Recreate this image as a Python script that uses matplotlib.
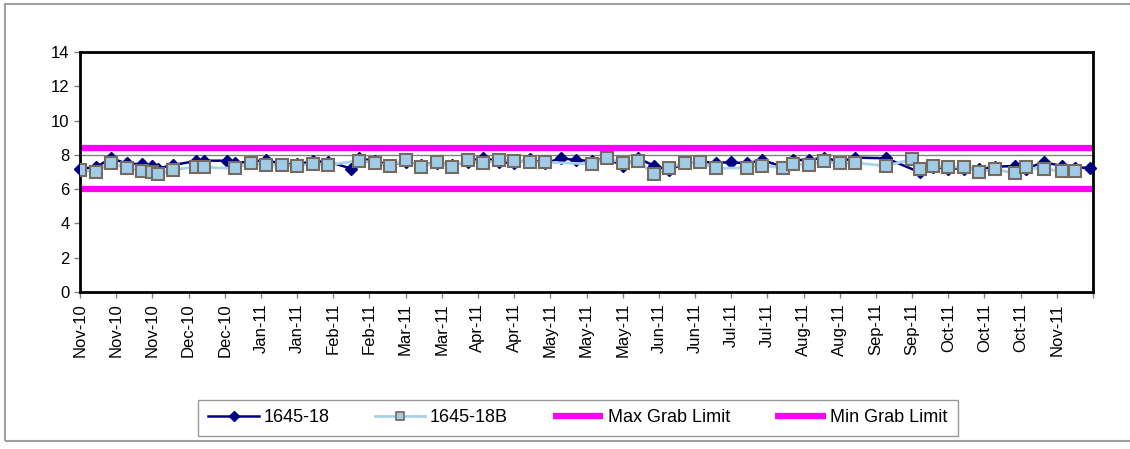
import matplotlib
matplotlib.use("Agg")
import matplotlib.pyplot as plt
from matplotlib.patches import Rectangle
import pandas as pd

plt.rcParams["font.family"] = ["Liberation Sans", "DejaVu Sans"]

# 1645-18 (navy diamonds)
dates_a = ["2010-11-01", "2010-11-07", "2010-11-13", "2010-11-19", "2010-11-25", "2010-11-29",
           "2010-12-01", "2010-12-07", "2010-12-16", "2010-12-19", "2010-12-28", "2010-12-31",
           "2011-01-06", "2011-01-12", "2011-01-18", "2011-01-24", "2011-01-30", "2011-02-05",
           "2011-02-14", "2011-02-17", "2011-02-23", "2011-03-01", "2011-03-07", "2011-03-13",
           "2011-03-19", "2011-03-25", "2011-03-31", "2011-04-06", "2011-04-12", "2011-04-18",
           "2011-04-24", "2011-04-30", "2011-05-06", "2011-05-12", "2011-05-18", "2011-05-24",
           "2011-05-30", "2011-06-05", "2011-06-11", "2011-06-17", "2011-06-23", "2011-06-29",
           "2011-07-05", "2011-07-11", "2011-07-17", "2011-07-23", "2011-07-31", "2011-08-04",
           "2011-08-10", "2011-08-16", "2011-08-22", "2011-08-28", "2011-09-09", "2011-09-22",
           "2011-09-27", "2011-10-03", "2011-10-09", "2011-10-15", "2011-10-21", "2011-10-29",
           "2011-11-02", "2011-11-09", "2011-11-16", "2011-11-21", "2011-11-27"]
vals_a = [7.2, 7.27, 7.8, 7.5, 7.45, 7.35,
          7.2, 7.41, 7.64, 7.66, 7.66, 7.54,
          7.6, 7.7, 7.47, 7.45, 7.62, 7.6,
          7.2, 7.8, 7.64, 7.4, 7.6, 7.4,
          7.55, 7.4, 7.6, 7.84, 7.6, 7.5,
          7.76, 7.5, 7.8, 7.7, 7.64, 7.8,
          7.35, 7.8, 7.37, 7.12, 7.5, 7.6,
          7.54, 7.57, 7.5, 7.7, 7.3, 7.7,
          7.7, 7.84, 7.6, 7.84, 7.8, 6.98,
          7.3, 7.2, 7.2, 7.16, 7.31, 7.35,
          7.2, 7.57, 7.35, 7.25, 7.25]

# 1645-18B (light blue squares)
dates_b = ["2010-11-01", "2010-11-07", "2010-11-13", "2010-11-19", "2010-11-25", "2010-11-29",
           "2010-12-01", "2010-12-07", "2010-12-16", "2010-12-19", "2010-12-31", "2011-01-06",
           "2011-01-12", "2011-01-18", "2011-01-24", "2011-01-30", "2011-02-05", "2011-02-17",
           "2011-02-23", "2011-03-01", "2011-03-07", "2011-03-13", "2011-03-19", "2011-03-25",
           "2011-03-31", "2011-04-06", "2011-04-12", "2011-04-18", "2011-04-24", "2011-04-30",
           "2011-05-18", "2011-05-24", "2011-05-30", "2011-06-05", "2011-06-11", "2011-06-17",
           "2011-06-23", "2011-06-29", "2011-07-05", "2011-07-17", "2011-07-23", "2011-07-31",
           "2011-08-04", "2011-08-10", "2011-08-16", "2011-08-22", "2011-08-28", "2011-09-09",
           "2011-09-19", "2011-09-22", "2011-09-27", "2011-10-03", "2011-10-09", "2011-10-15",
           "2011-10-21", "2011-10-29", "2011-11-02", "2011-11-09", "2011-11-16", "2011-11-21"]
vals_b = [7.12, 7.02, 7.54, 7.21, 7.06, 6.98,
          6.86, 7.12, 7.31, 7.27, 7.21, 7.54,
          7.41, 7.41, 7.35, 7.47, 7.41, 7.66,
          7.54, 7.35, 7.7, 7.27, 7.6, 7.31,
          7.7, 7.5, 7.7, 7.66, 7.57, 7.57,
          7.47, 7.84, 7.5, 7.64, 6.86, 7.25,
          7.54, 7.57, 7.21, 7.25, 7.37, 7.25,
          7.45, 7.41, 7.64, 7.5, 7.54, 7.35,
          7.76, 7.18, 7.37, 7.27, 7.31, 7.02,
          7.16, 6.92, 7.27, 7.16, 7.08, 7.08]

max_limit = 8.4
min_limit = 6.0
ref_line = 8

x_start = "2010-11-01"
x_end = "2011-11-28"
tick_step_days = 14

da = pd.to_datetime(dates_a)
db = pd.to_datetime(dates_b)
xs = pd.Timestamp(x_start)
xe = pd.Timestamp(x_end)

fig = plt.figure(figsize=(11.3, 4.49), dpi=100)
ax = fig.add_axes([80 / 1130, 1 - 292 / 449, (1093 - 80) / 1130, 240 / 449])

ax.axhline(ref_line, color="#808080", lw=1, zorder=1)
l3, = ax.plot([xs, xe], [max_limit, max_limit], color="#ff00ff", lw=4.5,
              solid_capstyle="butt", zorder=2, label="Max Grab Limit")
l4, = ax.plot([xs, xe], [min_limit, min_limit], color="#ff00ff", lw=4.5,
              solid_capstyle="butt", zorder=2, label="Min Grab Limit")
l1, = ax.plot(da, vals_a, color="#000080", lw=1.8, marker="D", ms=6.5,
              mfc="#000080", mec="#000080", zorder=3, clip_on=False, label="1645-18")
l2, = ax.plot(db, vals_b, color="#a6d2ee", lw=2, marker="s", ms=8.5,
              mfc="#a0cce8", mec="#756a60", mew=1.5, zorder=4, label="1645-18B")

ax.set_xlim(xs, xe)
ax.set_ylim(0, 14)
ax.set_yticks(range(0, 15, 2))

ticks = pd.date_range(xs, xe, freq=f"{tick_step_days}D")
ax.set_xticks(ticks)
labels = [t.strftime("%b-%y") for t in ticks]
labels[-1] = ""
ax.set_xticklabels(labels, rotation=90)

for s in ax.spines.values():
    s.set_linewidth(2)
    s.set_color("black")
ax.tick_params(axis="both", labelsize=12, length=4, width=1, color="#808080")
ax.tick_params(axis="x", pad=4)

leg = fig.legend([l1, l2, l3, l4], ["1645-18", "1645-18B", "Max Grab Limit", "Min Grab Limit"],
                 loc="center", bbox_to_anchor=(578 / 1130, 1 - 418 / 449), ncol=4,
                 fontsize=13, frameon=True, fancybox=False, handlelength=2.8,
                 handletextpad=0.25, columnspacing=2.5, borderpad=0.55)
leg.get_frame().set_edgecolor("#808080")
leg.get_frame().set_linewidth(1)
hs = leg.legend_handles
hs[0].set_markersize(5)
hs[1].set_markersize(6)
hs[1].set_markeredgewidth(1.2)

fig.patches.append(Rectangle((5 / 1130, 1 - 441 / 449), 1.2, 437 / 449,
                             transform=fig.transFigure, fill=False,
                             edgecolor="#a0a0a0", lw=1.5))

fig.savefig("out.png", dpi=100)
